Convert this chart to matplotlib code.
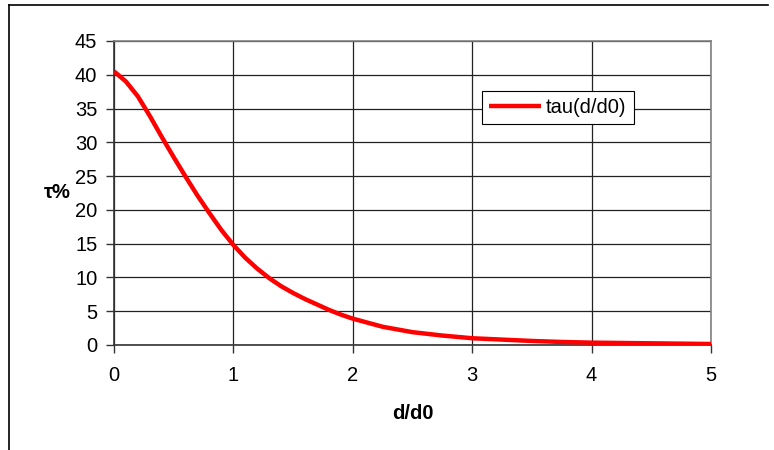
import matplotlib
matplotlib.use("Agg")
import matplotlib.pyplot as plt
from matplotlib.lines import Line2D

plt.rcParams["font.family"] = ["Liberation Sans", "DejaVu Sans"]

# values
d_ratio = [0.0, 0.1, 0.2, 0.3, 0.4, 0.5, 0.6, 0.7, 0.8, 0.9, 1.0, 1.1, 1.2, 1.3,
           1.4, 1.5, 1.6, 1.7, 1.8, 1.9, 2.0, 2.25, 2.5, 2.75, 3.0, 3.25, 3.5,
           3.75, 4.0, 4.25, 4.5, 4.75, 5.0]
tau_pct = [40.5, 39.0, 36.8, 33.9, 30.8, 27.8, 24.9, 22.1, 19.5, 17.0, 14.8,
           12.9, 11.3, 9.9, 8.7, 7.7, 6.8, 6.0, 5.2, 4.5, 3.9, 2.7, 1.9, 1.4,
           1.0, 0.8, 0.6, 0.45, 0.35, 0.3, 0.25, 0.2, 0.15]
x_ticks = [0, 1, 2, 3, 4, 5]
y_ticks = [0, 5, 10, 15, 20, 25, 30, 35, 40, 45]

W, H = 774, 450
FS = 14.5
fig = plt.figure(figsize=(W / 100, H / 100), dpi=100)
ax = fig.add_axes([114 / W, 1 - 345 / H, (711 - 114) / W, (345 - 41) / H])

ax.plot(d_ratio, tau_pct, color="#ff0000", lw=3.2, label="tau(d/d0)",
        solid_capstyle="butt", solid_joinstyle="round", zorder=3)

ax.set_xlim(0, 5)
ax.set_ylim(0, 45)
ax.set_xticks(x_ticks)
ax.set_yticks(y_ticks)
ax.grid(True, color="#222222", lw=0.9)
ax.set_axisbelow(True)

for side in ["left", "bottom"]:
    ax.spines[side].set_color("#333333")
    ax.spines[side].set_linewidth(1.2)
for side in ["top", "right"]:
    ax.spines[side].set_color("#808080")
    ax.spines[side].set_linewidth(1.2)

ax.tick_params(axis="both", labelsize=FS, length=6, width=1, color="#333333",
               direction="out")
ax.tick_params(axis="y", pad=6)
ax.tick_params(axis="x", pad=9)

ax.set_xlabel("d/d0", fontsize=FS, fontweight="bold", va="center")
ax.xaxis.set_label_coords(0.5, -0.224)
ax.set_ylabel("τ%", fontsize=FS, fontweight="bold", rotation=0,
              va="center", ha="center")
ax.yaxis.set_label_coords(-0.095, 0.5)

leg = ax.legend(loc="upper left", bbox_to_anchor=(481.7 / W, 1 - 91 / H),
                bbox_transform=fig.transFigure, fontsize=FS, frameon=True,
                fancybox=False, framealpha=1, edgecolor="black",
                handlelength=2.6, handletextpad=0.25, borderpad=0.35,
                borderaxespad=0)
leg.get_frame().set_linewidth(0.8)

# outer chart frame (left and top edges)
fig.add_artist(Line2D([9 / W, 9 / W], [0, 1 - 5 / H], color="black", lw=1.2,
                      transform=fig.transFigure))
fig.add_artist(Line2D([9 / W, 768 / W], [1 - 5 / H, 1 - 5 / H], color="black",
                      lw=1.2, transform=fig.transFigure))

fig.savefig("out.png", dpi=100)
